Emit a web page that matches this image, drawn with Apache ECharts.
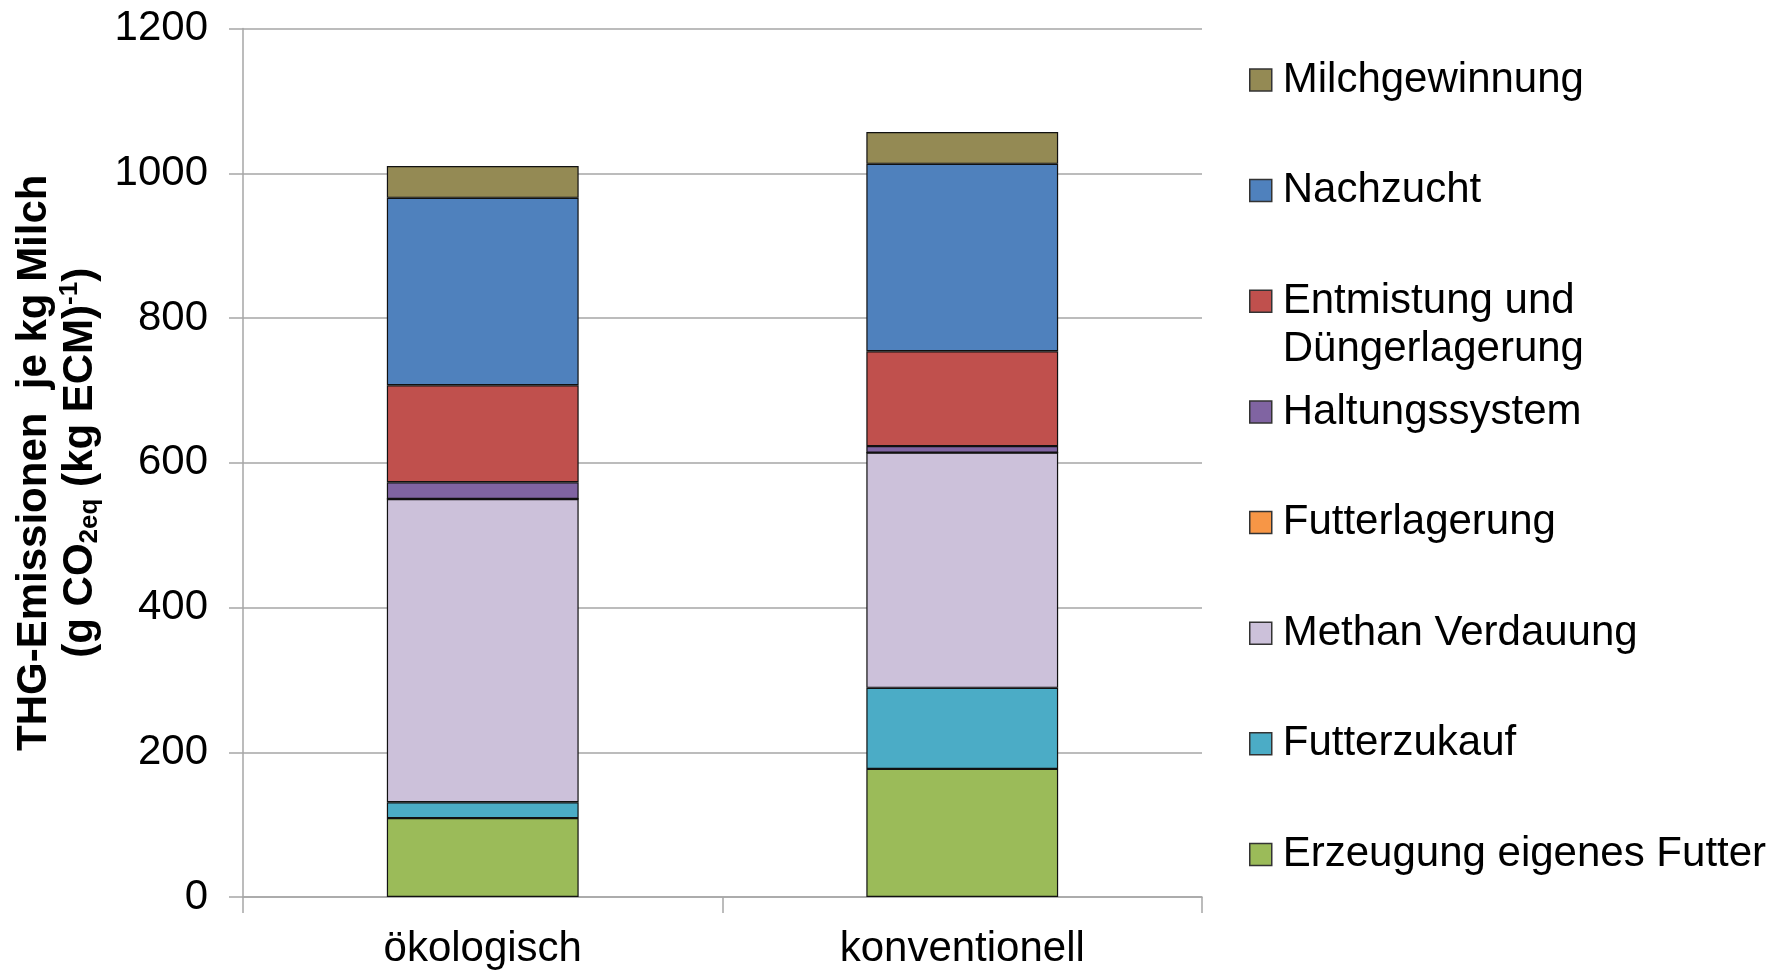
<!DOCTYPE html>
<html><head><meta charset="utf-8">
<script src="https://cdn.jsdelivr.net/npm/echarts@6/dist/echarts.min.js"></script>
<style>html,body{margin:0;padding:0;background:#fff}#c{width:1790px;height:970px}</style>
</head><body><div id="c"></div>
<script>
const categories = ['ökologisch', 'konventionell'];
const erzeugungEigenesFutter = [109, 177];
const futterzukauf = [22, 112];
const methanVerdauung = [419, 325];
const futterlagerung = [0, 0];
const haltungssystem = [23, 9];
const entmistung = [134, 131];
const nachzucht = [259, 259];
const milchgewinnung = [44, 44];
const yTicks = { min: 0, max: 1200, interval: 200 };

const seriesDefs = [
  ['Erzeugung eigenes Futter', erzeugungEigenesFutter, '#9BBB59'],
  ['Futterzukauf', futterzukauf, '#4BACC6'],
  ['Methan Verdauung', methanVerdauung, '#CCC1DA'],
  ['Futterlagerung', futterlagerung, '#F79646'],
  ['Haltungssystem', haltungssystem, '#8064A2'],
  ['Entmistung und Düngerlagerung', entmistung, '#C0504D'],
  ['Nachzucht', nachzucht, '#4F81BD'],
  ['Milchgewinnung', milchgewinnung, '#948A54']
];

const FONT = '"Liberation Sans", Arial, Helvetica, sans-serif';
const legendText = {
  fontFamily: FONT, fontSize: 42, color: '#000', lineHeight: 48, height: 48,
  padding: [0, 0, 0, 6], rich: { z: {} }
};
const legendCommon = {
  orient: 'vertical', left: 1249, padding: 0, itemGap: 62.6,
  itemWidth: 22, itemHeight: 22, icon: 'rect', selectedMode: false,
  textStyle: legendText,
  itemStyle: { borderColor: '#333', borderWidth: 1.5 },
  formatter: function (n) { return n === 'Entmistung und Düngerlagerung' ? 'Entmistung und\nDüngerlagerung' : n; }
};

const chart = echarts.init(document.getElementById('c'), null, { renderer: 'canvas' });
chart.setOption({
  backgroundColor: '#fff',
  animation: false,
  legend: [
    Object.assign({}, legendCommon, { top: 56, data: ['Milchgewinnung', 'Nachzucht', 'Entmistung und Düngerlagerung'] }),
    Object.assign({}, legendCommon, { top: 388, data: ['Haltungssystem', 'Futterlagerung', 'Methan Verdauung', 'Futterzukauf', 'Erzeugung eigenes Futter'] })
  ],
  grid: { left: 243, right: 588, top: 28.5, bottom: 73, containLabel: false, outerBoundsMode: 'none' },
  xAxis: {
    type: 'category', data: categories,
    axisLine: { show: true, lineStyle: { color: '#A6A6A6', width: 1.5 } },
    axisTick: { show: true, alignWithLabel: false, length: 16, lineStyle: { color: '#A6A6A6', width: 1.5 } },
    axisLabel: { fontFamily: FONT, fontSize: 42, color: '#000', margin: 31 }
  },
  yAxis: {
    type: 'value', min: yTicks.min, max: yTicks.max, interval: yTicks.interval,
    axisLine: { show: true, lineStyle: { color: '#A6A6A6', width: 1.5 } },
    axisTick: { show: true, inside: false, length: 14, lineStyle: { color: '#A6A6A6', width: 1.5 } },
    splitLine: { show: true, lineStyle: { color: '#A6A6A6', width: 1.5 } },
    axisLabel: { fontFamily: FONT, fontSize: 42, color: '#000', margin: 35, formatter: function (v) { return String(v); } },
    name: '{b|THG-Emissionen  je kg Milch}\n{b|(g CO}{s|2eq}{b| (kg ECM)}{p|-1}{b|)}',
    nameLocation: 'middle', nameRotate: 90, nameGap: 140,
    nameTextStyle: {
      fontFamily: FONT, fontWeight: 'bold', fontSize: 42, color: '#000', lineHeight: 46,
      rich: {
        b: { fontFamily: FONT, fontWeight: 'bold', fontSize: 42, lineHeight: 46, color: '#000' },
        s: { fontFamily: FONT, fontWeight: 'bold', fontSize: 26, lineHeight: 26, verticalAlign: 'bottom', color: '#000' },
        p: { fontFamily: FONT, fontWeight: 'bold', fontSize: 26, lineHeight: 26, verticalAlign: 'top', color: '#000' }
      }
    }
  },
  series: seriesDefs.map(function (d) {
    return {
      name: d[0], type: 'bar', stack: 'total', data: d[1], barWidth: '40%',
      itemStyle: { color: d[2], borderColor: '#111', borderWidth: 1.2 }
    };
  })
});
</script></body></html>
